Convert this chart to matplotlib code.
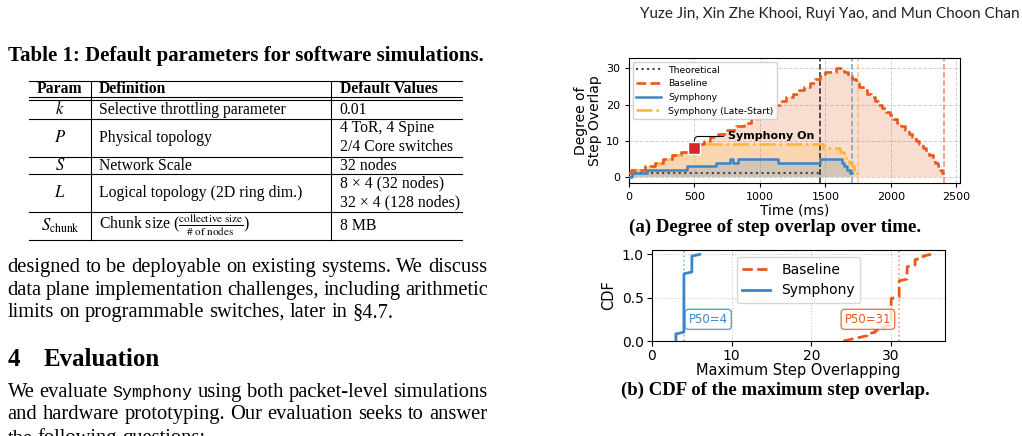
import numpy as np
import matplotlib
matplotlib.use("Agg")
import matplotlib.pyplot as plt
from matplotlib.lines import Line2D

# ---------------- text content ----------------
header_text = "Yuze Jin, Xin Zhe Khooi, Ruyi Yao, and Mun Choon Chan"
table_title = "Table 1: Default parameters for software simulations."
table_header = ["Param", "Definition", "Default Values"]
table_params = ["$k$", "$P$", "$S$", "$L$", r"$S_{\mathrm{chunk}}$"]
table_defs = ["Selective throttling parameter", "Physical topology", "Network Scale",
              "Logical topology (2D ring dim.)",
              r"Chunk size ($\frac{\mathrm{collective\ size}}{\#\ \mathrm{of\ nodes}}$)"]
table_values = [["0.01"], ["4 ToR, 4 Spine", "2/4 Core switches"], ["32 nodes"],
                ["8 × 4 (32 nodes)", "32 × 4 (128 nodes)"], ["8 MB"]]
para1 = ["designed to be deployable on existing systems. We discuss",
         "data plane implementation challenges, including arithmetic",
         "limits on programmable switches, later in §4.7."]
section_num = "4"
section_title = "Evaluation"
para2 = ["We evaluate `Symphony` using both packet-level simulations",
         "and hardware prototyping. Our evaluation seeks to answer",
         "the following questions:"]
caption_a = "(a) Degree of step overlap over time."
caption_b = "(b) CDF of the maximum step overlap."

# ---------------- chart (a) data: level change times (ms) and levels ----------------
theo_t = [0, 1455]
theo_y = [1, 1]
base_t = [0, 15, 120, 200, 260, 330, 400, 470, 530, 570, 615, 680, 750, 820, 880, 930,
          980, 1020, 1070, 1110, 1150, 1200, 1250, 1300, 1340, 1380, 1420, 1455, 1500,
          1580, 1640, 1670, 1700, 1730, 1755, 1785, 1815, 1845, 1875, 1905, 1935, 1960,
          1990, 2015, 2045, 2075, 2105, 2135, 2160, 2190, 2215, 2245, 2270, 2295, 2320,
          2340, 2360, 2375, 2390, 2408]
base_y = [1, 2, 3, 4, 5, 6, 7, 8, 9, 10, 11, 12, 13, 14, 15, 16,
          17, 18, 19, 20, 21, 22, 23, 24, 25, 26, 27, 28, 29,
          30, 29, 28, 27, 26, 25, 24, 23, 22, 21, 20, 19, 18,
          17, 16, 15, 14, 13, 12, 11, 10, 9, 8, 7, 6, 5,
          4, 3, 2, 1, 1]
sym_t = [0, 20, 135, 440, 665, 770, 795, 835, 1140, 1455, 1625, 1645, 1665, 1685, 1703]
sym_y = [0, 1, 2, 3, 4, 5, 4, 5, 4, 5, 4, 3, 2, 1, 1]
late_t = [0, 15, 120, 200, 260, 330, 400, 470, 510, 1485, 1615, 1640, 1660, 1680, 1700,
          1718, 1735, 1750]
late_y = [1, 2, 3, 4, 5, 6, 7, 8, 9, 8, 7, 6, 5, 4, 3, 2, 1, 1]
on_t, on_y = 500, 8

# ---------------- chart (b) data: max step overlap samples (value, count) ----------------
cdf_sym_vals = [3, 4, 5, 6]
cdf_sym_counts = [5, 34, 10, 1]
cdf_base_vals = [24, 25, 26, 27, 28, 29, 30, 31, 32, 33, 34, 35]
cdf_base_counts = [1, 1, 1, 2, 2, 2, 16, 10, 8, 4, 2, 1]
p50_sym, p50_base = 4, 31

# ---------------- colours ----------------
C_BASE = "#e8591a"
C_SYM = "#3a86c6"
C_LATE = "#fbb535"
C_THEO = "#444444"

W, H, DPI = 1022, 436, 100
SERIF = "Liberation Serif"
MONO = "Liberation Mono"
plt.rcParams["mathtext.fontset"] = "stix"

fig = plt.figure(figsize=(W / DPI, H / DPI), dpi=DPI)
renderer = fig.canvas.get_renderer()


def fx(x):
    return x / W


def fy(y):
    return 1 - y / H


def put(x, y, s, **kw):
    return fig.text(fx(x), fy(y), s, **kw)


def width_px(s, **kw):
    t = fig.text(0, 0, s, **kw)
    w = t.get_window_extent(renderer=renderer).width
    t.remove()
    return w


def fit(s, target, **kw):
    return 10 * target / width_px(s, fontsize=10, **kw)


def hline(x0, x1, y, lw=0.8):
    fig.add_artist(Line2D([fx(x0), fx(x1)], [fy(y), fy(y)], transform=fig.transFigure,
                          color="black", lw=lw))


def vline(x, y0, y1, lw=0.8):
    fig.add_artist(Line2D([fx(x), fx(x)], [fy(y0), fy(y1)], transform=fig.transFigure,
                          color="black", lw=lw))


# ---------------- header ----------------
fs_head = fit(header_text, 379, family="Lato")
put(640, 14, header_text, fontsize=fs_head, family="Lato", va="center", color="#222222")

# ---------------- table ----------------
fs_tt = fit(table_title, 479, family=SERIF, weight="bold")
put(8, 55.5, table_title, fontsize=fs_tt, family=SERIF, weight="bold", va="center")

fs_tab = fit("Selective throttling parameter", 188, family=SERIF)
tx0, tx1 = 29, 462
colv = [91, 331]
param_cx, def_x, val_x = 60, 99, 339.5
rule_top = 80.7
dbl = [97.3, 100.0]
row_lines = [119, 156.7, 174.3, 211.7, 240]

hline(tx0, tx1, rule_top)
for yy in dbl:
    hline(tx0, tx1, yy)
for yy in row_lines:
    hline(tx0, tx1, yy)
for xv in colv:
    vline(xv, rule_top, row_lines[-1])

hy = (rule_top + dbl[0]) / 2
put(param_cx, hy, table_header[0], fontsize=fs_tab, family=SERIF, weight="bold",
    ha="center", va="center")
put(def_x, hy, table_header[1], fontsize=fs_tab, family=SERIF, weight="bold", va="center")
put(val_x, hy, table_header[2], fontsize=fs_tab, family=SERIF, weight="bold", va="center")

tops = [dbl[1]] + row_lines[:-1]
for i in range(len(table_params)):
    cy = (tops[i] + row_lines[i]) / 2
    put(param_cx, cy, table_params[i], fontsize=fs_tab * 1.05, family=SERIF, ha="center",
        va="center")
    put(def_x, cy, table_defs[i], fontsize=fs_tab, family=SERIF, va="center")
    vals = table_values[i]
    n = len(vals)
    for j, v in enumerate(vals):
        put(val_x, cy + (j - (n - 1) / 2) * 18.8, v, fontsize=fs_tab, family=SERIF, va="center")

# ---------------- body text ----------------
MONO_SCALE = 0.82


def words_of(line):
    out = []
    for w in line.split(" "):
        if w.startswith("`") and w.endswith("`"):
            out.append((w[1:-1], MONO))
        else:
            out.append((w, SERIF))
    return out


def space_px(fs):
    return width_px("a a", fontsize=fs, family=SERIF) - width_px("aa", fontsize=fs, family=SERIF)


def natural_width(line, fs):
    ws = words_of(line)
    tot = sum(width_px(w, fontsize=fs * (MONO_SCALE if f == MONO else 1.0), family=f)
              for w, f in ws)
    return tot + 0.8 * space_px(fs) * (len(ws) - 1)


def draw_line(line, x0, x1, y, fs, justify):
    ws = words_of(line)
    sizes = [fs * (MONO_SCALE if f == MONO else 1.0) for w, f in ws]
    widths = [width_px(w, fontsize=s, family=f) for (w, f), s in zip(ws, sizes)]
    if justify and len(ws) > 1:
        gap = (x1 - x0 - sum(widths)) / (len(ws) - 1)
    else:
        gap = space_px(fs)
    x = x0
    for (w, f), s, wd in zip(ws, sizes, widths):
        put(x, y, w, fontsize=s, family=f, va="baseline")
        x += wd + gap


bx0, bx1 = 7.5, 487.5
just_lines = [para1[0], para1[1], para2[0], para2[1]]
fs_body = min([15.0] + [10 * (bx1 - bx0) / natural_width(l, 10) for l in just_lines])
base1 = [272.3, 294.5, 316.7]
for i, l in enumerate(para1):
    draw_line(l, bx0, bx1, base1[i], fs_body, justify=(i < len(para1) - 1))
fs_sec = fit(section_title, 116.7, family=SERIF, weight="bold")
put(7.5, 366, section_num, fontsize=fs_sec, family=SERIF, weight="bold", va="baseline")
put(44, 366, section_title, fontsize=fs_sec, family=SERIF, weight="bold", va="baseline")
base2 = [396.7, 418.5, 443.5]
for i, l in enumerate(para2):
    draw_line(l, bx0, bx1, base2[i], fs_body, justify=(i < len(para2) - 1))

# ---------------- chart (a) ----------------
ax = fig.add_axes([fx(629), fy(183), (960 - 629) / W, (183 - 58.3) / H])
ax.fill_between(base_t, base_y, step="post", color=C_BASE, alpha=0.2, lw=0, zorder=1)
ax.fill_between(late_t, late_y, step="post", color=C_LATE, alpha=0.2, lw=0, zorder=1)
ax.fill_between(sym_t, sym_y, step="post", color=C_SYM, alpha=0.2, lw=0, zorder=1)
ax.fill_between(theo_t, theo_y, step="post", color="#999999", alpha=0.08, lw=0, zorder=1)

h_theo, = ax.plot(theo_t, theo_y, ls=":", color=C_THEO, lw=1.5, zorder=3, label="Theoretical")
h_late, = ax.plot(late_t, late_y, drawstyle="steps-post", ls="-.", color=C_LATE, lw=1.8,
                  zorder=3, label="Symphony (Late-Start)")
h_sym, = ax.plot(sym_t, sym_y, drawstyle="steps-post", color=C_SYM, lw=1.8, zorder=4,
                 label="Symphony")
h_base, = ax.plot(base_t, base_y, drawstyle="steps-post", ls="--", color=C_BASE, lw=1.9,
                  zorder=5, label="Baseline")

ax.axvline(theo_t[-1], color="black", ls="--", lw=1.1, alpha=0.85, zorder=2)
ax.axvline(sym_t[-1], color=C_SYM, ls="--", lw=1.1, alpha=0.7, zorder=2)
ax.axvline(late_t[-1], color=C_LATE, ls="--", lw=1.1, alpha=0.7, zorder=2)
ax.axvline(base_t[-1], color=C_BASE, ls="--", lw=1.1, alpha=0.7, zorder=2)

ax.plot([on_t], [on_y], marker="s", ms=8, color="#d62728", mec="white", mew=1.0, zorder=7)
ax.annotate("Symphony On", xy=(on_t, on_y), xytext=(755, 11.2), fontsize=8,
            fontweight="bold", ha="left", va="center", zorder=8,
            arrowprops=dict(arrowstyle="-", color="black", lw=0.8, relpos=(0, 0.5),
                            connectionstyle="angle,angleA=0,angleB=90,rad=4",
                            shrinkA=1, shrinkB=5))

ax.set_xlim(0, 2528)
ax.set_ylim(-1.65, 32.8)
ax.set_xticks([0, 500, 1000, 1500, 2000, 2500])
ax.set_yticks([0, 10, 20, 30])
ax.tick_params(labelsize=8, length=3)
ax.grid(True, ls="--", color="#d0d0d0", lw=0.7)
ax.set_axisbelow(True)
ax.set_xlabel("Time (ms)", fontsize=9.8, labelpad=1)
ax.set_ylabel("Degree of\nStep Overlap", fontsize=10, labelpad=3, linespacing=0.95)
ax.legend(handles=[h_theo, h_base, h_sym, h_late], loc="upper left", fontsize=6.7,
          handlelength=2.6, framealpha=0.9, borderaxespad=0.4)

fs_cap_a = fit(caption_a, 293, family=SERIF, weight="bold")
put(775, 227, caption_a, fontsize=fs_cap_a, family=SERIF, weight="bold", ha="center", va="center")

# ---------------- chart (b) ----------------
ax2 = fig.add_axes([fx(652), fy(341), (945 - 652) / W, (341 - 250) / H])
base_samples = np.repeat(cdf_base_vals, cdf_base_counts)
sym_samples = np.repeat(cdf_sym_vals, cdf_sym_counts)
base_cdf = np.arange(len(base_samples)) / (len(base_samples) - 1)
sym_cdf = np.arange(len(sym_samples)) / (len(sym_samples) - 1)

ax2.plot(base_samples, base_cdf, ls="--", color=C_BASE, lw=2, label="Baseline", zorder=3)
ax2.plot(sym_samples, sym_cdf, color=C_SYM, lw=2, label="Symphony", zorder=3)
ax2.axvline(p50_sym, color=C_SYM, ls=":", lw=1.2, alpha=0.6, zorder=2)
ax2.axvline(p50_base, color=C_BASE, ls=":", lw=1.2, alpha=0.6, zorder=2)
ax2.text(p50_sym + 0.6, 0.25, f"P50={p50_sym}", color=C_SYM, fontsize=8.5, ha="left",
         va="center", zorder=5,
         bbox=dict(boxstyle="round,pad=0.3", fc="white", ec=C_SYM, alpha=0.8))
ax2.text(p50_base - 1.0, 0.25, f"P50={p50_base}", color=C_BASE, fontsize=8.5, ha="right",
         va="center", zorder=5,
         bbox=dict(boxstyle="round,pad=0.3", fc="white", ec=C_BASE, alpha=0.8))
ax2.set_xlim(0, 36.75)
ax2.set_ylim(0, 1.05)
ax2.set_xticks([0, 10, 20, 30])
ax2.set_yticks([0.0, 0.5, 1.0])
ax2.tick_params(labelsize=10, length=3.5, pad=2.5)
ax2.grid(True, ls=":", color="#cccccc", lw=0.8)
ax2.set_axisbelow(True)
ax2.set_xlabel("Maximum Step Overlapping", fontsize=10.5, labelpad=0)
ax2.set_ylabel("CDF", fontsize=10.5, labelpad=4)
ax2.legend(loc="upper center", fontsize=10, handlelength=2.0, borderaxespad=0.5)

fs_cap_b = fit(caption_b, 309, family=SERIF, weight="bold")
put(775.5, 390, caption_b, fontsize=fs_cap_b, family=SERIF, weight="bold", ha="center", va="center")

fig.savefig("out.png", dpi=DPI)
